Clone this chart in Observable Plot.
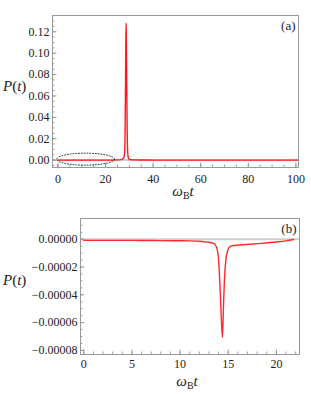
<!DOCTYPE html>
<html><head><meta charset="utf-8">
<script src="https://cdn.jsdelivr.net/npm/d3@7"></script>
<script src="https://cdn.jsdelivr.net/npm/@observablehq/plot@0.6"></script>
<style>
body{margin:0;background:#fff}
#c{width:311px;height:394px;position:relative;overflow:hidden}
#c svg{display:block}
#c svg text{font-family:"Liberation Serif","Times New Roman","Nimbus Roman","DejaVu Serif","Noto Serif",Times,serif !important}
</style>
</head><body><div id="c"></div>
<script>
// Panel (a) data
const tA = [0, 5, 10, 15, 20, 25, 26.5, 27.5, 28.0, 28.2, 28.4, 28.55, 28.65, 28.75, 28.9, 29.1, 29.3, 29.6, 30.2, 31.5, 35, 50, 70, 90, 101.1];
const pA = [0, 0, 0, 0, 0, 0.0002, 0.0005, 0.0015, 0.006, 0.025, 0.075, 0.115, 0.128, 0.112, 0.07, 0.025, 0.008, 0.002, 0.0006, 0.0002, 0.0001, 0, 0, 0, 0];
const xTicksA = [0, 20, 40, 60, 80, 100];
const xMinorA = d3.range(-0, 101, 5);
const yTicksA = [0, 0.02, 0.04, 0.06, 0.08, 0.10, 0.12];
const yMinorA = d3.range(-0.005, 0.1351, 0.005);
const ellipseCenter = [11.6, 0.0009];
const ellipseRadii = [12.1, 0.0056];

// Panel (b) data
const tB = [0, 2, 4, 6, 8, 10, 11, 12, 12.5, 13, 13.5, 13.8, 14.0, 14.15, 14.3, 14.4, 14.5, 14.6, 14.75, 14.95, 15.2, 15.6, 16.5, 18, 20, 21, 21.8];
const pB = [-0.0000008, -0.0000008, -0.0000008, -0.0000009, -0.000001, -0.0000011, -0.0000012, -0.0000015, -0.0000018, -0.0000022, -0.000003, -0.000006, -0.000015, -0.000035, -0.00006, -0.0000705, -0.00005, -0.00003, -0.000015, -0.000008, -0.0000052, -0.0000045, -0.000004, -0.0000032, -0.000002, -0.0000012, -0.0000002];
const xTicksB = [0, 5, 10, 15, 20];
const xMinorB = d3.range(0, 22.5, 1);
const yTicksB = [0, -0.00002, -0.00004, -0.00006, -0.00008];
const yMinorB = d3.range(-0.00008, 0.0000149, 0.000005);

const serif = "Liberation Serif, Times New Roman, DejaVu Serif, serif";

function panel(cfg) {
  const plotW = cfg.width - cfg.ml - cfg.mr;
  const plotH = cfg.height - cfg.mt - cfg.mb;
  const data = cfg.t.map((t, i) => ({t, p: cfg.p[i]}));
  const marks = [
    Plot.ruleY([0], {stroke: "#cfcfcf", strokeWidth: 2}),
    Plot.tickY(cfg.yMinor, {y: d => d, stroke: "#888", strokeWidth: 0.8, insetRight: plotW - 2.5}),
    Plot.tickY(cfg.yTicks, {y: d => d, stroke: "#888", strokeWidth: 0.8, insetRight: plotW - 4.5}),
    Plot.tickX(cfg.xMinor, {x: d => d, stroke: "#888", strokeWidth: 0.8, insetTop: plotH - 2.5}),
    Plot.tickX(cfg.xTicks, {x: d => d, stroke: "#888", strokeWidth: 0.8, insetTop: plotH - 4.5}),
    Plot.axisX(cfg.xTicks, {tickSize: 0, tickPadding: cfg.xPad, label: null, tickFormat: d3.format("d"), fontSize: 12, fill: "#222"}),
    Plot.axisY(cfg.yTicks, {tickSize: 0, tickPadding: 3, label: null, tickFormat: cfg.yFormat, fontSize: 12, fill: "#222"}),
    Plot.line(data, {x: "t", y: "p", stroke: cfg.color, strokeWidth: 1.4, curve: "monotone-x"}),
    ...(cfg.extra || []),
    Plot.frame({stroke: "#999", strokeWidth: 1}),
    Plot.text([cfg.tag], {frameAnchor: "top-right", dx: -3, dy: 5, fontSize: 13, fill: "#222", text: d => d})
  ];
  const svg = Plot.plot({
    width: cfg.width, height: cfg.height,
    marginLeft: cfg.ml, marginRight: cfg.mr, marginTop: cfg.mt, marginBottom: cfg.mb,
    x: {domain: cfg.xDomain},
    y: {domain: cfg.yDomain},
    style: {fontFamily: serif, fontSize: "12px", background: "white", overflow: "visible"},
    marks
  });
  const s = d3.select(svg);
  s.selectAll("text").attr("font-family", serif);
  // y label P(t)
  const yl = s.append("text").attr("x", 3).attr("y", cfg.yLabelY)
    .attr("font-size", 15).attr("fill", "#222").attr("font-family", serif)
    .attr("text-anchor", "start").attr("dominant-baseline", "middle");
  yl.append("tspan").attr("font-style", "italic").text("P");
  yl.append("tspan").text("(");
  yl.append("tspan").attr("font-style", "italic").text("t");
  yl.append("tspan").text(")");
  // x label ω_B t
  const xl = s.append("text").attr("x", cfg.xLabelX).attr("y", cfg.xLabelY)
    .attr("font-size", 15).attr("fill", "#222").attr("font-family", serif)
    .attr("text-anchor", "middle");
  xl.append("tspan").attr("font-style", "italic").text("ω");
  xl.append("tspan").attr("font-size", 10).attr("dy", 3).text("B");
  xl.append("tspan").attr("font-style", "italic").attr("dy", -3).text("t");
  return svg;
}

// ellipse points built from center/radii arrays
const ellipsePts = d3.range(0, 101).map(i => {
  const a = (i / 100) * 2 * Math.PI;
  return {t: ellipseCenter[0] + ellipseRadii[0] * Math.cos(a), p: ellipseCenter[1] + ellipseRadii[1] * Math.sin(a)};
});

const svgA = panel({
  width: 311, height: 200, ml: 52, mr: 13, mt: 15, mb: 33,
  t: tA, p: pA, xTicks: xTicksA, xMinor: xMinorA, yTicks: yTicksA, yMinor: yMinorA,
  xDomain: [-2.3, 101.1], yDomain: [-0.0069, 0.1352],
  yFormat: d3.format(".2f"), xPad: 7, color: "#ff1a1a", tag: "(a)",
  yLabelY: 88, xLabelX: 183, xLabelY: 196,
  extra: [Plot.line(ellipsePts, {x: "t", y: "p", stroke: "#333", strokeWidth: 1, strokeDasharray: "1,1.8"})]
});
const svgB = panel({
  width: 311, height: 194, ml: 80, mr: 12, mt: 18, mb: 40,
  t: tB, p: pB, xTicks: xTicksB, xMinor: xMinorB, yTicks: yTicksB, yMinor: yMinorB,
  xDomain: [-0.34, 22.4], yDomain: [-0.0000829, 0.0000149],
  yFormat: d3.format(".5f"), xPad: 5, color: "#ff2a2a", tag: "(b)",
  yLabelY: 82, xLabelX: 187, xLabelY: 186
});
document.getElementById("c").append(svgA, svgB);
</script>
</body></html>
